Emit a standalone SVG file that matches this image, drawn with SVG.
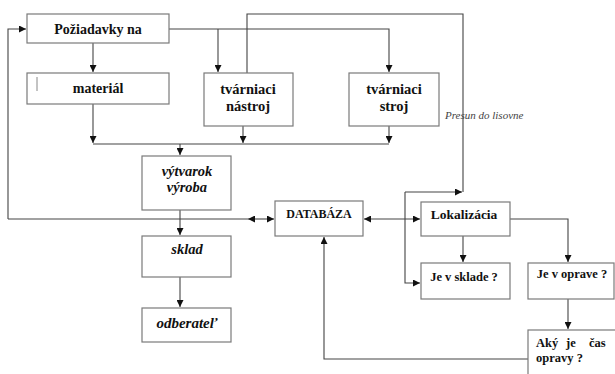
<svg xmlns="http://www.w3.org/2000/svg" width="615" height="374" viewBox="0 0 615 374">
<style>
.box{fill:#fff;stroke:#7a7a7a;stroke-width:1.2}
.f{font-family:"Liberation Serif","Times New Roman",Times,"DejaVu Serif",serif;fill:#111}
.t{font-weight:bold;text-anchor:middle}
.ti{font-weight:bold;font-style:italic;text-anchor:middle}
.tl{font-weight:bold;text-anchor:start}
.c{fill:none;stroke:#444;stroke-width:1.1}
</style>
<defs>
<marker id="a" viewBox="0 0 10 10" refX="10" refY="5" markerWidth="7" markerHeight="7" markerUnits="userSpaceOnUse" orient="auto">
<path d="M0,0 L10,5 L0,10 z" fill="#111"/>
</marker>
<marker id="s" viewBox="0 0 10 10" refX="0" refY="5" markerWidth="7" markerHeight="7" markerUnits="userSpaceOnUse" orient="auto">
<path d="M10,0 L0,5 L10,10 z" fill="#111"/>
</marker>
</defs>
<rect width="615" height="374" fill="#fff"/>
<g id="connectors">
<path class="c" d="M8,219 V29 H26" marker-end="url(#a)"/>
<path class="c" d="M93,43 V72" marker-end="url(#a)"/>
<path class="c" d="M169,29 H389 V72" marker-end="url(#a)"/>
<path class="c" d="M218,29 V72" marker-end="url(#a)"/>
<path class="c" d="M247,73 V14 H463 V192"/>
<path class="c" d="M93,104 V143" marker-end="url(#a)"/>
<path class="c" d="M243,126 V143" marker-end="url(#a)"/>
<path class="c" d="M389,126 V143" marker-end="url(#a)"/>
<path class="c" d="M93,144 H389"/>
<path class="c" d="M180,144 V155" marker-end="url(#a)"/>
<path class="c" d="M180,210 V235" marker-end="url(#a)"/>
<path class="c" d="M180,277 V307" marker-end="url(#a)"/>
<path class="c" d="M8,219 H248"/>
<path class="c" d="M248,219 H274" marker-start="url(#s)" marker-end="url(#a)"/>
<path class="c" d="M364,219 H420" marker-start="url(#s)" marker-end="url(#a)"/>
<path class="c" d="M405,192 H462" marker-end="url(#a)"/>
<path class="c" d="M405,192 V283 H420" marker-end="url(#a)"/>
<path class="c" d="M463,236 V262" marker-end="url(#a)"/>
<path class="c" d="M510,219 H568 V262" marker-end="url(#a)"/>
<path class="c" d="M568,299 V329" marker-end="url(#a)"/>
<path class="c" d="M528,359 H324 V237" marker-end="url(#a)"/>
</g>
<g id="poziadavky"><rect class="box" x="27" y="14" width="142" height="29"/><text class="f t" x="98" y="34" font-size="14">Požiadavky na</text></g>
<g id="material"><rect class="box" x="27" y="73" width="142" height="31"/><line x1="37" y1="77" x2="37" y2="91" stroke="#888" stroke-width="1"/><text class="f t" x="98" y="93" font-size="14">materiál</text></g>
<g id="nastroj"><rect class="box" x="204" y="73" width="89" height="53"/><text class="f t" x="248" y="94" font-size="14.5">tvárniaci</text><text class="f t" x="248" y="111" font-size="14.5">nástroj</text></g>
<g id="stroj"><rect class="box" x="349" y="73" width="90" height="53"/><text class="f t" x="394" y="94" font-size="14.5">tvárniaci</text><text class="f t" x="394" y="111" font-size="14.5">stroj</text></g>
<g id="presun"><text class="f" x="445" y="119" font-style="italic" font-size="11" style="fill:#444">Presun do lisovne</text></g>
<g id="vytvarok"><rect class="box" x="142" y="156" width="89" height="54"/><text class="f ti" x="187" y="176" font-size="14.5">výtvarok</text><text class="f ti" x="187" y="192" font-size="14.5">výroba</text></g>
<g id="sklad"><rect class="box" x="142" y="236" width="89" height="41"/><text class="f ti" x="187" y="254" font-size="14.5">sklad</text></g>
<g id="odberatel"><rect class="box" x="142" y="308" width="89" height="34"/><text class="f ti" x="187" y="328" font-size="15">odberateľ</text></g>
<g id="databaza"><rect class="box" x="275" y="201" width="88" height="35"/><text class="f t" x="319" y="218" font-size="12">DATABÁZA</text></g>
<g id="lokalizacia"><rect class="box" x="421" y="202" width="89" height="34"/><text class="f t" x="464" y="219" font-size="13.5">Lokalizácia</text></g>
<g id="jevsklade"><rect class="box" x="421" y="263" width="89" height="36"/><text class="f t" x="464" y="281" font-size="12.5">Je v sklade ?</text></g>
<g id="jevoprave"><rect class="box" x="528" y="263" width="86" height="36"/><text class="f t" x="572" y="278" font-size="12.5">Je v oprave ?</text></g>
<g id="akyjecas"><rect class="box" x="528" y="330" width="90" height="50"/><text class="f tl" y="347" font-size="12.5"><tspan x="536">Aký</tspan><tspan x="566">je</tspan><tspan x="589">čas</tspan></text><text class="f tl" x="536" y="362" font-size="12.5">opravy ?</text></g>
</svg>
